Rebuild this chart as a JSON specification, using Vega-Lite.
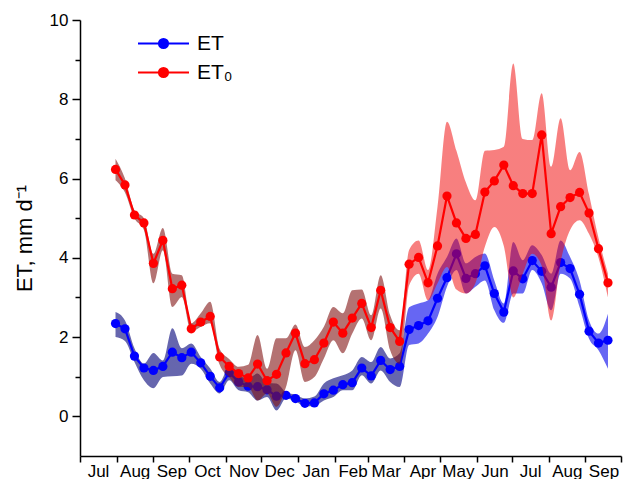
{
  "$schema": "https://vega.github.io/schema/vega-lite/v6.json",
  "width": 541,
  "height": 436,
  "autosize": {"type": "none"},
  "padding": {"left": 80, "top": 20, "right": 7, "bottom": 23},
  "background": "white",
  "config": {
    "view": {"stroke": null},
    "font": "Liberation Sans",
    "axis": {"grid": false, "domainColor": "black", "tickColor": "black", "labelColor": "black", "titleColor": "black", "domainWidth": 1.5, "tickWidth": 1.5, "labelFont": "Liberation Sans", "titleFont": "Liberation Sans"}
  },
  "datasets": {
    "rows": [
      {"date": "2013-07-31", "series": "ET", "value": 2.34, "lo": 2.00, "hi": 2.63},
      {"date": "2013-08-08", "series": "ET", "value": 2.21, "lo": 1.90, "hi": 2.42},
      {"date": "2013-08-16", "series": "ET", "value": 1.52, "lo": 1.37, "hi": 1.72},
      {"date": "2013-08-24", "series": "ET", "value": 1.22, "lo": 0.91, "hi": 1.33},
      {"date": "2013-09-01", "series": "ET", "value": 1.16, "lo": 0.71, "hi": 1.60},
      {"date": "2013-09-09", "series": "ET", "value": 1.26, "lo": 0.99, "hi": 1.41},
      {"date": "2013-09-17", "series": "ET", "value": 1.62, "lo": 1.01, "hi": 2.22},
      {"date": "2013-09-25", "series": "ET", "value": 1.48, "lo": 1.03, "hi": 1.72},
      {"date": "2013-10-03", "series": "ET", "value": 1.62, "lo": 1.33, "hi": 1.84},
      {"date": "2013-10-11", "series": "ET", "value": 1.35, "lo": 1.20, "hi": 1.50},
      {"date": "2013-10-19", "series": "ET", "value": 1.01, "lo": 0.83, "hi": 1.21},
      {"date": "2013-10-27", "series": "ET", "value": 0.72, "lo": 0.58, "hi": 0.87},
      {"date": "2013-11-04", "series": "ET", "value": 1.10, "lo": 0.91, "hi": 1.25},
      {"date": "2013-11-12", "series": "ET", "value": 0.87, "lo": 0.66, "hi": 1.04},
      {"date": "2013-11-20", "series": "ET", "value": 0.76, "lo": 0.61, "hi": 0.96},
      {"date": "2013-11-28", "series": "ET", "value": 0.75, "lo": 0.40, "hi": 1.08},
      {"date": "2013-12-06", "series": "ET", "value": 0.67, "lo": 0.49, "hi": 0.84},
      {"date": "2013-12-14", "series": "ET", "value": 0.51, "lo": 0.15, "hi": 0.83},
      {"date": "2013-12-22", "series": "ET", "value": 0.53, "lo": 0.45, "hi": 0.61},
      {"date": "2013-12-30", "series": "ET", "value": 0.45, "lo": 0.38, "hi": 0.55},
      {"date": "2014-01-07", "series": "ET", "value": 0.33, "lo": 0.25, "hi": 0.45},
      {"date": "2014-01-15", "series": "ET", "value": 0.34, "lo": 0.26, "hi": 0.50},
      {"date": "2014-01-23", "series": "ET", "value": 0.57, "lo": 0.40, "hi": 0.83},
      {"date": "2014-01-31", "series": "ET", "value": 0.66, "lo": 0.49, "hi": 0.96},
      {"date": "2014-02-08", "series": "ET", "value": 0.80, "lo": 0.66, "hi": 1.04},
      {"date": "2014-02-16", "series": "ET", "value": 0.85, "lo": 0.66, "hi": 1.16},
      {"date": "2014-02-24", "series": "ET", "value": 1.22, "lo": 1.04, "hi": 1.50},
      {"date": "2014-03-04", "series": "ET", "value": 1.02, "lo": 0.83, "hi": 1.37},
      {"date": "2014-03-12", "series": "ET", "value": 1.41, "lo": 1.16, "hi": 1.75},
      {"date": "2014-03-20", "series": "ET", "value": 1.18, "lo": 0.87, "hi": 1.46},
      {"date": "2014-03-28", "series": "ET", "value": 1.26, "lo": 0.74, "hi": 1.59},
      {"date": "2014-04-05", "series": "ET", "value": 2.19, "lo": 1.80, "hi": 2.75},
      {"date": "2014-04-13", "series": "ET", "value": 2.29, "lo": 1.84, "hi": 2.85},
      {"date": "2014-04-21", "series": "ET", "value": 2.41, "lo": 2.09, "hi": 2.93},
      {"date": "2014-04-29", "series": "ET", "value": 2.98, "lo": 2.51, "hi": 3.60},
      {"date": "2014-05-07", "series": "ET", "value": 3.50, "lo": 3.27, "hi": 4.02},
      {"date": "2014-05-15", "series": "ET", "value": 4.10, "lo": 3.69, "hi": 4.49},
      {"date": "2014-05-23", "series": "ET", "value": 3.48, "lo": 3.10, "hi": 3.86},
      {"date": "2014-05-31", "series": "ET", "value": 3.60, "lo": 3.27, "hi": 4.02},
      {"date": "2014-06-08", "series": "ET", "value": 3.80, "lo": 3.43, "hi": 4.11},
      {"date": "2014-06-16", "series": "ET", "value": 3.10, "lo": 2.68, "hi": 3.43},
      {"date": "2014-06-24", "series": "ET", "value": 2.63, "lo": 2.36, "hi": 2.85},
      {"date": "2014-07-02", "series": "ET", "value": 3.67, "lo": 3.10, "hi": 4.40},
      {"date": "2014-07-10", "series": "ET", "value": 3.47, "lo": 3.10, "hi": 3.94},
      {"date": "2014-07-18", "series": "ET", "value": 3.93, "lo": 3.69, "hi": 4.32},
      {"date": "2014-07-26", "series": "ET", "value": 3.66, "lo": 3.36, "hi": 4.07},
      {"date": "2014-08-03", "series": "ET", "value": 3.26, "lo": 2.68, "hi": 3.60},
      {"date": "2014-08-11", "series": "ET", "value": 3.88, "lo": 3.60, "hi": 4.44},
      {"date": "2014-08-19", "series": "ET", "value": 3.73, "lo": 3.48, "hi": 4.02},
      {"date": "2014-08-27", "series": "ET", "value": 3.08, "lo": 2.76, "hi": 3.43},
      {"date": "2014-09-04", "series": "ET", "value": 2.15, "lo": 1.96, "hi": 2.42},
      {"date": "2014-09-12", "series": "ET", "value": 1.85, "lo": 1.67, "hi": 2.09},
      {"date": "2014-09-20", "series": "ET", "value": 1.92, "lo": 1.20, "hi": 2.59},
      {"date": "2013-07-31", "series": "ET₀", "value": 6.23, "lo": 5.96, "hi": 6.50},
      {"date": "2013-08-08", "series": "ET₀", "value": 5.84, "lo": 5.65, "hi": 6.00},
      {"date": "2013-08-16", "series": "ET₀", "value": 5.08, "lo": 5.00, "hi": 5.20},
      {"date": "2013-08-24", "series": "ET₀", "value": 4.88, "lo": 4.70, "hi": 5.00},
      {"date": "2013-09-01", "series": "ET₀", "value": 3.86, "lo": 3.36, "hi": 4.10},
      {"date": "2013-09-09", "series": "ET₀", "value": 4.44, "lo": 4.19, "hi": 4.75},
      {"date": "2013-09-17", "series": "ET₀", "value": 3.22, "lo": 2.76, "hi": 3.60},
      {"date": "2013-09-25", "series": "ET₀", "value": 3.31, "lo": 3.01, "hi": 3.56},
      {"date": "2013-10-03", "series": "ET₀", "value": 2.21, "lo": 2.13, "hi": 2.35},
      {"date": "2013-10-11", "series": "ET₀", "value": 2.38, "lo": 2.26, "hi": 2.60},
      {"date": "2013-10-19", "series": "ET₀", "value": 2.52, "lo": 2.35, "hi": 2.89},
      {"date": "2013-10-27", "series": "ET₀", "value": 1.50, "lo": 1.30, "hi": 1.70},
      {"date": "2013-11-04", "series": "ET₀", "value": 1.26, "lo": 0.99, "hi": 1.45},
      {"date": "2013-11-12", "series": "ET₀", "value": 1.08, "lo": 0.74, "hi": 1.25},
      {"date": "2013-11-20", "series": "ET₀", "value": 0.97, "lo": 0.74, "hi": 1.30},
      {"date": "2013-11-28", "series": "ET₀", "value": 1.32, "lo": 0.40, "hi": 2.05},
      {"date": "2013-12-06", "series": "ET₀", "value": 0.90, "lo": 0.58, "hi": 1.20},
      {"date": "2013-12-14", "series": "ET₀", "value": 1.06, "lo": 0.24, "hi": 1.97},
      {"date": "2013-12-22", "series": "ET₀", "value": 1.60, "lo": 0.74, "hi": 1.97},
      {"date": "2013-12-30", "series": "ET₀", "value": 2.10, "lo": 1.67, "hi": 2.32},
      {"date": "2014-01-07", "series": "ET₀", "value": 1.33, "lo": 0.87, "hi": 1.75},
      {"date": "2014-01-15", "series": "ET₀", "value": 1.43, "lo": 0.99, "hi": 1.92},
      {"date": "2014-01-23", "series": "ET₀", "value": 1.85, "lo": 1.46, "hi": 2.26},
      {"date": "2014-01-31", "series": "ET₀", "value": 2.38, "lo": 1.92, "hi": 2.76},
      {"date": "2014-02-08", "series": "ET₀", "value": 2.10, "lo": 1.59, "hi": 2.60},
      {"date": "2014-02-16", "series": "ET₀", "value": 2.48, "lo": 2.09, "hi": 3.18},
      {"date": "2014-02-24", "series": "ET₀", "value": 2.85, "lo": 2.47, "hi": 3.20},
      {"date": "2014-03-04", "series": "ET₀", "value": 2.24, "lo": 1.92, "hi": 2.55},
      {"date": "2014-03-12", "series": "ET₀", "value": 3.18, "lo": 2.72, "hi": 3.56},
      {"date": "2014-03-20", "series": "ET₀", "value": 2.24, "lo": 1.67, "hi": 2.55},
      {"date": "2014-03-28", "series": "ET₀", "value": 1.89, "lo": 1.33, "hi": 2.17},
      {"date": "2014-04-05", "series": "ET₀", "value": 3.84, "lo": 3.30, "hi": 4.20},
      {"date": "2014-04-13", "series": "ET₀", "value": 4.01, "lo": 3.60, "hi": 4.44},
      {"date": "2014-04-21", "series": "ET₀", "value": 3.37, "lo": 2.93, "hi": 3.69},
      {"date": "2014-04-29", "series": "ET₀", "value": 4.30, "lo": 3.36, "hi": 5.29},
      {"date": "2014-05-07", "series": "ET₀", "value": 5.56, "lo": 3.77, "hi": 7.43},
      {"date": "2014-05-15", "series": "ET₀", "value": 4.88, "lo": 3.20, "hi": 6.70},
      {"date": "2014-05-23", "series": "ET₀", "value": 4.49, "lo": 3.10, "hi": 5.90},
      {"date": "2014-05-31", "series": "ET₀", "value": 4.59, "lo": 3.36, "hi": 5.45},
      {"date": "2014-06-08", "series": "ET₀", "value": 5.66, "lo": 4.28, "hi": 6.70},
      {"date": "2014-06-16", "series": "ET₀", "value": 5.94, "lo": 4.78, "hi": 6.72},
      {"date": "2014-06-24", "series": "ET₀", "value": 6.34, "lo": 4.30, "hi": 6.80},
      {"date": "2014-07-02", "series": "ET₀", "value": 5.82, "lo": 3.00, "hi": 8.90},
      {"date": "2014-07-10", "series": "ET₀", "value": 5.62, "lo": 3.60, "hi": 7.00},
      {"date": "2014-07-18", "series": "ET₀", "value": 5.62, "lo": 4.10, "hi": 6.97},
      {"date": "2014-07-26", "series": "ET₀", "value": 7.10, "lo": 3.80, "hi": 8.15},
      {"date": "2014-08-03", "series": "ET₀", "value": 4.61, "lo": 2.42, "hi": 6.30},
      {"date": "2014-08-11", "series": "ET₀", "value": 5.29, "lo": 3.90, "hi": 7.52},
      {"date": "2014-08-19", "series": "ET₀", "value": 5.52, "lo": 4.70, "hi": 6.21},
      {"date": "2014-08-27", "series": "ET₀", "value": 5.65, "lo": 4.95, "hi": 6.67},
      {"date": "2014-09-04", "series": "ET₀", "value": 5.13, "lo": 4.60, "hi": 5.60},
      {"date": "2014-09-12", "series": "ET₀", "value": 4.23, "lo": 4.00, "hi": 4.50},
      {"date": "2014-09-20", "series": "ET₀", "value": 3.37, "lo": 3.00, "hi": 3.60}
    ]
  },
  "data": {"name": "rows"},
  "encoding": {
    "x": {
      "field": "date",
      "type": "temporal",
      "scale": {"type": "utc", "domain": [{"year": 2013, "month": 7, "date": 1, "utc": true}, {"year": 2014, "month": 10, "date": 1, "utc": true}]},
      "axis": {
        "title": null,
        "tickCount": {"interval": "month", "step": 1},
        "labelExpr": "utcmonth(datum.value) == 9 && utcyear(datum.value) == 2014 ? '' : utcFormat(datum.value, '%b')",
        "labelOffset": 18,
        "labelAlign": "center",
        "labelFontSize": 17,
        "labelPadding": 1,
        "tickSize": 6,
        "labelOverlap": false,
        "labelFlush": false,
        "labelBound": false
      }
    }
  },
  "layer": [
    {
      "transform": [{"filter": "datum.series === 'ET'"}],
      "mark": {"type": "area", "interpolate": "monotone", "fill": {"gradient": "linear", "x1": 0, "x2": 1, "y1": 0, "y2": 0, "stops": [{"offset": 0, "color": "rgba(20,20,130,0.65)"}, {"offset": 0.578, "color": "rgba(20,20,130,0.65)"}, {"offset": 0.596, "color": "rgba(0,0,235,0.6)"}, {"offset": 1, "color": "rgba(0,0,235,0.6)"}]}},
      "encoding": {
        "y": {"field": "lo", "type": "quantitative"},
        "y2": {"field": "hi"}
      }
    },
    {
      "transform": [{"filter": "datum.series === 'ET'"}],
      "mark": {"type": "line", "strokeWidth": 2.2},
      "encoding": {
        "y": {"field": "value", "type": "quantitative"},
        "color": {"field": "series", "type": "nominal", "scale": {"domain": ["ET", "ET₀"], "range": ["#0000ff", "#ff0000"]}}
      }
    },
    {
      "transform": [{"filter": "datum.series === 'ET'"}],
      "mark": {"type": "point", "filled": true, "opacity": 1, "size": 85, "color": "#0000ff"},
      "encoding": {"y": {"field": "value", "type": "quantitative"}}
    },
    {
      "transform": [{"filter": "datum.series === 'ET₀'"}],
      "mark": {"type": "area", "interpolate": "monotone", "fill": {"gradient": "linear", "x1": 0, "x2": 1, "y1": 0, "y2": 0, "stops": [{"offset": 0, "color": "rgba(130,20,20,0.6)"}, {"offset": 0.578, "color": "rgba(130,20,20,0.6)"}, {"offset": 0.596, "color": "rgba(240,0,0,0.5)"}, {"offset": 1, "color": "rgba(240,0,0,0.5)"}]}},
      "encoding": {
        "y": {"field": "lo", "type": "quantitative"},
        "y2": {"field": "hi"}
      }
    },
    {
      "transform": [{"filter": "datum.series === 'ET₀'"}],
      "mark": {"type": "line", "strokeWidth": 2.2},
      "encoding": {
        "y": {
          "field": "value",
          "type": "quantitative",
          "scale": {"domain": [-1, 10], "nice": false, "zero": false},
          "axis": {
            "title": "ET, mm d⁻¹",
            "titleFontSize": 22,
            "titleFontWeight": "normal",
            "titlePadding": 13,
            "values": [0, 1, 2, 3, 4, 5, 6, 7, 8, 9, 10],
            "labelExpr": "datum.value % 2 == 0 ? datum.label : ''",
            "labelFontSize": 17,
            "labelPadding": 4,
            "tickSize": {"condition": {"test": "datum.value % 2 == 0", "value": 8}, "value": 5}
          }
        },
        "color": {
          "field": "series",
          "type": "nominal",
          "scale": {"domain": ["ET", "ET₀"], "range": ["#0000ff", "#ff0000"]},
          "legend": {
            "title": null,
            "orient": "none",
            "legendX": 72,
            "legendY": 12,
            "padding": 0,
            "labelFontSize": 21,
            "labelFont": "Liberation Sans",
            "labelColor": "black",
            "labelOffset": 22,
            "rowPadding": 7,
            "symbolType": "M -2.5 0 L 2.5 0 M -0.44 0 A 0.44 0.44 0 1 0 0.44 0 A 0.44 0.44 0 1 0 -0.44 0 Z",
            "symbolSize": 416,
            "symbolStrokeWidth": 2.2,
            "encode": {"symbols": {"update": {"fill": {"scale": "color", "field": "value"}, "stroke": {"scale": "color", "field": "value"}, "opacity": {"value": 1}}}}
          }
        }
      }
    },
    {
      "transform": [{"filter": "datum.series === 'ET₀'"}],
      "mark": {"type": "point", "filled": true, "opacity": 1, "size": 85, "color": "#ff0000"},
      "encoding": {"y": {"field": "value", "type": "quantitative"}}
    }
  ]
}
